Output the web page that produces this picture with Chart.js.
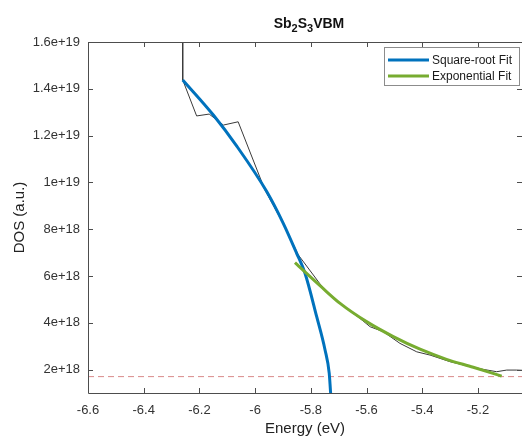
<!DOCTYPE html>
<html>
<head>
<meta charset="utf-8">
<script src="https://cdn.jsdelivr.net/npm/chart.js@4"></script>
<style>
  html, body { margin: 0; padding: 0; background: #fff; overflow: hidden; }
  canvas { display: block; }
</style>
</head>
<body>
<canvas id="c" width="522" height="438"></canvas>
<script>
// Density of states near the valence band maximum (raw data)
const dosEnergy = [-6.2605, -6.260, -6.210, -6.165, -6.114, -6.061, -5.965, -5.900, -5.845, -5.767, -5.707, -5.624, -5.587, -5.540, -5.480, -5.420, -5.372, -5.301, -5.253, -5.181, -5.133, -5.097, -5.061, -5.000];
const dosValue  = [2.2e19, 1.438e19, 1.284e19, 1.292e19, 1.245e19, 1.259e19, 9.68e18, 8.26e18, 6.90e18, 5.66e18, 4.92e18, 4.19e18, 3.83e18, 3.62e18, 3.12e18, 2.76e18, 2.62e18, 2.34e18, 2.20e18, 2.01e18, 1.91e18, 1.98e18, 1.98e18, 1.95e18];

// Square-root fit of the band edge
const sqrtEnergy = [-6.260, -6.150, -6.066, -5.959, -5.899, -5.851, -5.821, -5.779, -5.749, -5.734, -5.729, -5.7275];
const sqrtValue  = [1.438e19, 1.288e19, 1.155e19, 9.62e18, 8.25e18, 6.97e18, 6.12e18, 4.26e18, 2.84e18, 1.84e18, 1.0e18, 0.8e18];

// Exponential tail fit
const expEnergy = [-5.857, -5.761, -5.695, -5.600, -5.504, -5.408, -5.313, -5.217, -5.115];
const expValue  = [6.57e18, 5.52e18, 4.83e18, 4.05e18, 3.41e18, 2.87e18, 2.44e18, 2.10e18, 1.72e18];

// Background level
const cutoffEnergy = [-6.6, -5.0];
const cutoffValue  = [1.7e18, 1.7e18];

// Axis ticks
const xTickValues = [-6.6, -6.4, -6.2, -6.0, -5.8, -5.6, -5.4, -5.2];
const xTickLabels = ['-6.6', '-6.4', '-6.2', '-6', '-5.8', '-5.6', '-5.4', '-5.2'];
const yTickValues = [2e18, 4e18, 6e18, 8e18, 1e19, 1.2e19, 1.4e19, 1.6e19];
const yTickLabels = ['2e+18', '4e+18', '6e+18', '8e+18', '1e+19', '1.2e+19', '1.4e+19', '1.6e+19'];

const FONT = '"Liberation Sans", Arial, Helvetica, sans-serif';
const toPoints = (xs, ys) => xs.map((x, i) => ({ x: x, y: ys[i] }));

// Box frame with inward tick marks on all four sides
const framePlugin = {
  id: 'frame',
  afterDatasetsDraw(chart) {
    const { ctx, chartArea: a, scales } = chart;
    ctx.save();
    ctx.strokeStyle = '#4d4d4d';
    ctx.lineWidth = 1;
    ctx.beginPath();
    ctx.rect(a.left + 0.5, a.top + 0.5, a.right - a.left, a.bottom - a.top);
    ctx.stroke();
    const len = 5;
    ctx.beginPath();
    xTickValues.forEach(v => {
      const px = Math.round(scales.x.getPixelForValue(v)) + 0.5;
      ctx.moveTo(px, a.bottom); ctx.lineTo(px, a.bottom - len);
      ctx.moveTo(px, a.top); ctx.lineTo(px, a.top + len);
    });
    yTickValues.forEach(v => {
      const py = Math.round(scales.y.getPixelForValue(v)) + 0.5;
      ctx.moveTo(a.left, py); ctx.lineTo(a.left + len, py);
      ctx.moveTo(a.right, py); ctx.lineTo(a.right - len, py);
    });
    ctx.stroke();
    ctx.restore();
  }
};

// Title with chemical subscripts
const titlePlugin = {
  id: 'formulaTitle',
  afterDraw(chart) {
    const { ctx } = chart;
    const parts = [
      { t: 'Sb', sub: false }, { t: '2', sub: true },
      { t: 'S', sub: false }, { t: '3', sub: true },
      { t: 'VBM', sub: false }
    ];
    const big = 'bold 14px ' + FONT, small = 'bold 11px ' + FONT;
    ctx.save();
    ctx.fillStyle = '#111';
    ctx.textBaseline = 'alphabetic';
    let total = 0;
    parts.forEach(p => { ctx.font = p.sub ? small : big; p.w = ctx.measureText(p.t).width; total += p.w; });
    let x = 309 - total / 2;
    const base = 28;
    parts.forEach(p => {
      ctx.font = p.sub ? small : big;
      ctx.fillText(p.t, x, p.sub ? base + 4 : base);
      x += p.w;
    });
    ctx.restore();
  }
};

// Boxed legend in the upper right corner
const legendPlugin = {
  id: 'boxLegend',
  afterDraw(chart) {
    const { ctx } = chart;
    const items = chart.data.datasets.filter(d => d.inLegend);
    const bx = 384, by = 47, bw = 135, bh = 38;
    ctx.save();
    ctx.fillStyle = '#fff';
    ctx.fillRect(bx, by, bw, bh);
    ctx.strokeStyle = '#8c8c8c';
    ctx.lineWidth = 1;
    ctx.strokeRect(bx + 0.5, by + 0.5, bw, bh);
    ctx.font = '12px ' + FONT;
    ctx.textBaseline = 'middle';
    items.forEach((d, i) => {
      const y = by + 13 + i * 16;
      ctx.strokeStyle = d.borderColor;
      ctx.lineWidth = 3;
      ctx.beginPath();
      ctx.moveTo(bx + 4, y); ctx.lineTo(bx + 45, y);
      ctx.stroke();
      ctx.fillStyle = '#1a1a1a';
      ctx.fillText(d.label, bx + 48, y + 0.5);
    });
    ctx.restore();
  }
};

new Chart(document.getElementById('c'), {
  type: 'scatter',
  data: {
    datasets: [
      {
        label: 'DOS',
        data: toPoints(dosEnergy, dosValue),
        showLine: true, borderColor: '#3a3a3a', borderWidth: 1,
        pointRadius: 0, tension: 0, order: 3
      },
      {
        label: 'Background',
        data: toPoints(cutoffEnergy, cutoffValue),
        showLine: true, borderColor: '#d98a8a', borderWidth: 1, borderDash: [6, 4],
        pointRadius: 0, order: 4
      },
      {
        label: 'Square-root Fit', inLegend: true,
        data: toPoints(sqrtEnergy, sqrtValue),
        showLine: true, borderColor: '#0072BD', borderWidth: 3,
        pointRadius: 0, cubicInterpolationMode: 'monotone', order: 2
      },
      {
        label: 'Exponential Fit', inLegend: true,
        data: toPoints(expEnergy, expValue),
        showLine: true, borderColor: '#77AC30', borderWidth: 3,
        pointRadius: 0, cubicInterpolationMode: 'monotone', order: 1
      }
    ]
  },
  options: {
    responsive: false,
    animation: false,
    devicePixelRatio: 1,
    layout: { padding: { top: 42, right: 0, left: 0, bottom: 0 } },
    plugins: { legend: { display: false }, title: { display: false }, tooltip: { enabled: false } },
    scales: {
      x: {
        type: 'linear', min: -6.6, max: -5.042,
        afterBuildTicks: s => { s.ticks = xTickValues.map(v => ({ value: v })); },
        afterFit: s => { s.height = 45; },
        grid: { display: false }, border: { display: false },
        ticks: {
          autoSkip: false, maxRotation: 0, padding: 2, color: '#333',
          font: { family: FONT, size: 13 },
          callback: (v, i) => xTickLabels[i]
        },
        title: { display: true, text: 'Energy (eV)', color: '#222', font: { family: FONT, size: 15 }, padding: { top: 0, bottom: 0 } }
      },
      y: {
        type: 'linear', min: 1e18, max: 1.6e19,
        afterBuildTicks: s => { s.ticks = yTickValues.map(v => ({ value: v })); },
        afterFit: s => { s.width = 88; },
        grid: { display: false }, border: { display: false },
        ticks: {
          autoSkip: false, padding: 0, color: '#333',
          font: { family: FONT, size: 13 },
          callback: (v, i) => yTickLabels[i]
        },
        title: { display: true, text: 'DOS (a.u.)', color: '#222', font: { family: FONT, size: 15 }, padding: { top: 11, bottom: 0 } }
      }
    }
  },
  plugins: [framePlugin, titlePlugin, legendPlugin]
});
</script>
</body>
</html>
